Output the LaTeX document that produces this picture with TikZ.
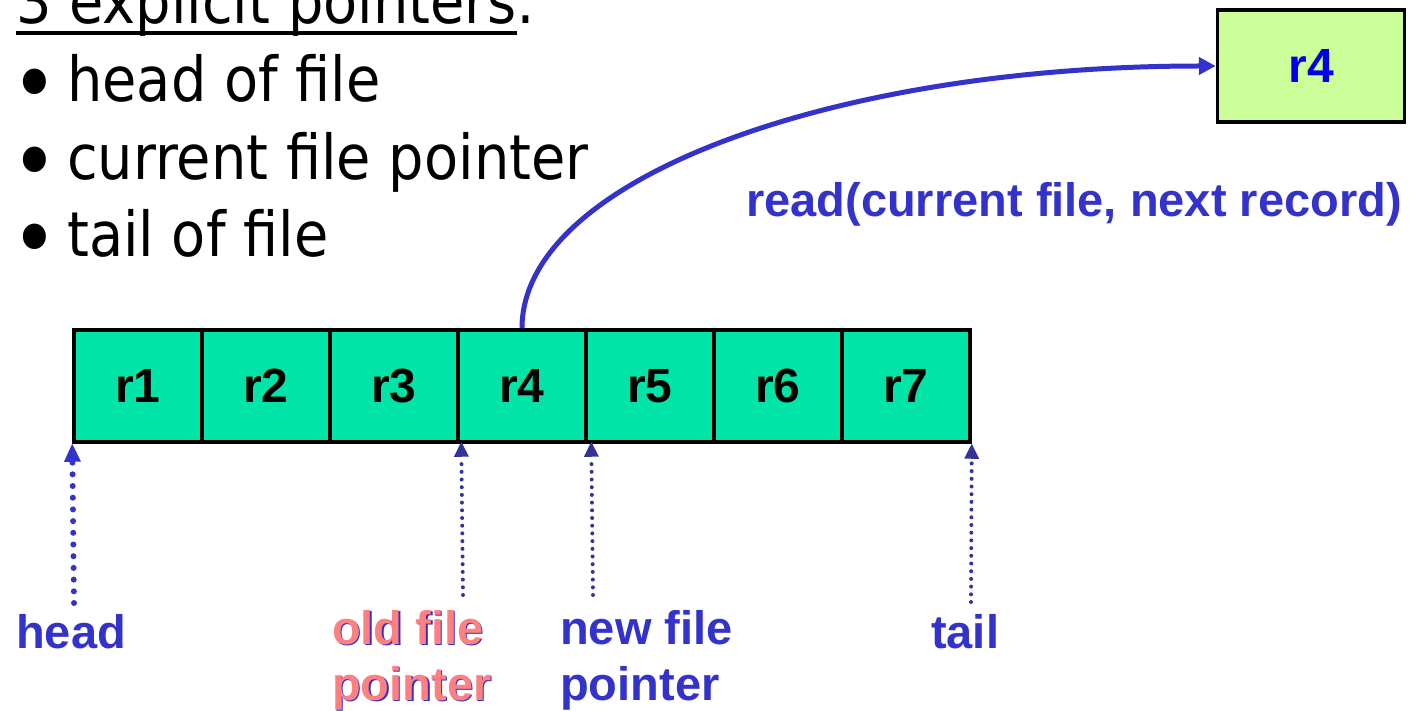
\documentclass[tikz,border=0pt]{standalone}
\usepackage{fontspec}
\usetikzlibrary{arrows.meta,calc}
\setmainfont{Liberation Sans}
\newfontfamily\bodyfont[FakeStretch=0.9]{DejaVu Sans}

\definecolor{cellgreen}{RGB}{0,228,168}
\definecolor{boxgreen}{RGB}{204,255,153}
\definecolor{lineblue}{RGB}{51,51,204}
\definecolor{navy}{RGB}{51,51,153}
\definecolor{salmon}{RGB}{255,128,128}
\definecolor{purered}{RGB}{0,0,240}

% underline drawn as a thick rule under the text
\newcommand\thickul[1]{\setbox0\hbox{#1}\rlap{\rule[-11pt]{\wd0}{4pt}}\box0}
% text with a thin blue drop shadow
\newcommand\shd[1]{\rlap{\kern1.3pt\raisebox{-1.3pt}{\color{lineblue}#1}}#1}
% large list bullet followed by the item text
\newcommand\bul{\makebox[53pt][l]{\hspace*{-3pt}\smash{\raisebox{-13pt}{\fontsize{88}{88}\selectfont •}}}}

\begin{document}
\begin{tikzpicture}[x=1pt,y=-1pt,
  bodytext/.style={anchor=base west, inner sep=0pt, font=\bodyfont\fontsize{62}{62}\selectfont},
  cell/.style={draw=black, line width=3.5pt, fill=cellgreen, minimum width=128pt,
    minimum height=112pt, inner sep=0pt, font=\fontsize{48}{48}\selectfont\bfseries},
  recbox/.style={draw=black, line width=3.5pt, fill=boxgreen, minimum width=187pt,
    minimum height=112pt, inner sep=0pt, text=purered, font=\fontsize{48}{48}\selectfont\bfseries},
  lbl/.style={inner sep=0pt, align=left, font=\fontsize{47}{56}\selectfont\bfseries},
  readarrow/.style={draw=lineblue, line width=5pt, -{Triangle[length=17pt,width=17pt]}},
  headptr/.style={draw=lineblue, line width=6pt, line cap=round, dash pattern=on 0pt off 11.7pt,
    -{Triangle[length=18pt,width=17pt,fill=lineblue,line width=0pt]}},
  ptr/.style={draw=navy, line width=4pt, line cap=round, dash pattern=on 0pt off 7.7pt,
    -{Triangle[length=15pt,width=15pt,fill=navy,line width=0pt]}}]

\clip (0,0) rectangle (1418,711);

% heading and bullet list
\node[bodytext] (title) at (16,24) {\thickul{3 explicit pointers}:};
\node[bodytext] (b1) at (14,102) {\bul head of file};
\node[bodytext] (b2) at (14,180) {\bul current file pointer};
\node[bodytext] (b3) at (14,257) {\bul tail of file};

% the file: seven records in a row
\foreach \i in {1,...,7}
  \node[cell] (c\i) at ({74+64+128*(\i-1)},386) {r\i};

% record read into memory
\node[recbox] (mem) at (1311,66) {r4};
\draw[readarrow] (c4.north) .. controls +(0,-150) and +(-380,0) .. (mem.west);
\node[anchor=base west, inner sep=0pt, text=lineblue, font=\fontsize{47}{47}\selectfont\bfseries]
  (readlbl) at (746,217) {read(current file, next record)};

% pointer labels
\node[lbl, anchor=base west, text=lineblue] (head) at (16,648) {head};
\node[lbl, anchor=north west, text=salmon] (old) at (332,610) {\shd{old file}\\\shd{pointer}};
\node[lbl, anchor=north west, text=lineblue] (new) at (560,610) {new file\\pointer};
\node[lbl, anchor=base west, text=lineblue] (tail) at (931,648) {tail};

% pointer ends
\coordinate (headtip) at (c1.south west);
\coordinate (oldtip) at ($(c4.south west)+(5,-2)$);
\coordinate (newtip) at ($(c5.south west)+(7,-2)$);
\coordinate (tailtip) at (c7.south east);
\coordinate (headend) at (74,603);
\coordinate (oldend) at (463,595);
\coordinate (newend) at (593,595);
\coordinate (tailend) at (971,602);

\draw[headptr] (headend) -- (headtip);
\draw[ptr] (oldend) -- (oldtip);
\draw[ptr] (newend) -- (newtip);
\draw[ptr] (tailend) -- (tailtip);
\end{tikzpicture}
\end{document}
